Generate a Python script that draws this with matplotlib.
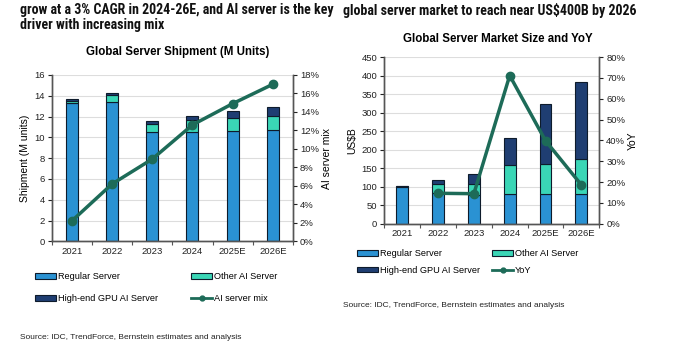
import matplotlib
matplotlib.use("Agg")
import matplotlib.pyplot as plt
import numpy as np
from matplotlib.patches import Patch
from matplotlib.lines import Line2D

years = ["2021", "2022", "2023", "2024", "2025E", "2026E"]

# Left chart: Global server shipment (M units)
ship_regular = [13.3, 13.4, 10.5, 10.5, 10.6, 10.7]
ship_other_ai = [0.2, 0.7, 0.75, 1.15, 1.25, 1.4]
ship_highend = [0.15, 0.2, 0.3, 0.4, 0.65, 0.8]
ai_mix = [2.2, 6.2, 8.9, 12.6, 14.9, 17.0]

# Right chart: Global server market size (US$B) and YoY
mkt_regular = [98, 82, 77, 80, 81, 80]
mkt_other_ai = [4, 25, 31, 78, 81, 94]
mkt_highend = [1, 11, 27, 73, 161, 209]
mkt_yoy = [np.nan, 14.6, 14.4, 71.1, 39.8, 18.6]

C_REG = "#2A92D3"
C_OTH = "#3AD6B6"
C_HI = "#1F3E72"
C_LINE = "#1D6B58"
EDGE = "#0E1B2B"
SPINE = "#555555"

plt.rcParams['font.family'] = ['Liberation Sans', 'DejaVu Sans']

fig = plt.figure(figsize=(6.79, 3.51), dpi=100)
W, H = 679, 351

def fx(px):
    return px / W

def fy(py):
    return 1 - py / H

def style(ax, ax2):
    for a in (ax, ax2):
        a.spines['top'].set_visible(False)
        for s in ('left', 'right', 'bottom'):
            a.spines[s].set_color(SPINE)
            a.spines[s].set_linewidth(1.0)
        a.tick_params(axis='both', labelsize=6.8, colors='#222222', length=3, width=0.8, pad=2)
    ax.set_xlim(-0.5, 5.5)
    ax.set_xticks(range(6))
    ax.set_xticklabels(years)
    ax.tick_params(axis='x', which='major', length=0, pad=4)
    ax.set_xticks(np.arange(-0.5, 6, 1), minor=True)
    ax.tick_params(axis='x', which='minor', length=3, width=0.8, color=SPINE)
    ax.yaxis.grid(True, color='#DDDDDD', linewidth=0.8)
    ax.set_axisbelow(True)

def stacked(ax, reg, oth, hi, width):
    x = np.arange(len(years))
    reg = np.array(reg); oth = np.array(oth); hi = np.array(hi)
    ax.bar(x, reg, width, color=C_REG, edgecolor=EDGE, linewidth=0.8)
    ax.bar(x, oth, width, bottom=reg, color=C_OTH, edgecolor=EDGE, linewidth=0.8)
    ax.bar(x, hi, width, bottom=reg + oth, color=C_HI, edgecolor=EDGE, linewidth=0.8)

# ---------- Left chart ----------
axL = fig.add_axes([fx(51.7), fy(241.3), fx(293 - 51.7), (241.3 - 75) / H])
axL2 = axL.twinx()
stacked(axL, ship_regular, ship_other_ai, ship_highend, 0.3)
axL2.plot(range(6), ai_mix, color=C_LINE, lw=2.5, marker='o', ms=6)
style(axL, axL2)
axL.set_ylim(0, 16)
axL.set_yticks(range(0, 17, 2))
axL2.set_ylim(0, 18)
axL2.set_yticks(range(0, 19, 2))
axL2.set_yticklabels([f"{v}%" for v in range(0, 19, 2)])
axL.set_ylabel("Shipment (M units)", fontsize=7.5, labelpad=3)
axL2.set_ylabel("AI server mix", fontsize=7.5, labelpad=2)
fig.text(fx(178), fy(52), "Global Server Shipment (M Units)", fontsize=8.3,
         fontweight='bold', ha='center', va='center')

# ---------- Right chart ----------
axR = fig.add_axes([fx(384.3), fy(223.7), fx(599.3 - 384.3), (223.7 - 57) / H])
axR2 = axR.twinx()
stacked(axR, mkt_regular, mkt_other_ai, mkt_highend, 0.33)
axR2.plot(range(6), mkt_yoy, color=C_LINE, lw=2.5, marker='o', ms=6)
style(axR, axR2)
axR.set_ylim(0, 450)
axR.set_yticks(range(0, 451, 50))
axR2.set_ylim(0, 80)
axR2.set_yticks(range(0, 81, 10))
axR2.set_yticklabels([f"{v}%" for v in range(0, 81, 10)])
axR.set_ylabel("US$B", fontsize=7.5, labelpad=3)
axR2.set_ylabel("YoY", fontsize=7.5, labelpad=2)
fig.text(fx(498), fy(39), "Global Server Market Size and YoY", fontsize=8.3,
         fontweight='bold', ha='center', va='center')

# ---------- Legends ----------
def patch(c):
    return Patch(facecolor=c, edgecolor=EDGE, linewidth=0.8)

def linehandle():
    return Line2D([], [], color=C_LINE, lw=2.0, marker='o', ms=3.5)

def add_legend(handles, labels, x, y, spacing):
    leg = fig.legend(handles, labels, loc='upper left', bbox_to_anchor=(fx(x), fy(y)),
                     frameon=False, fontsize=6.6, handlelength=2.3, handleheight=0.6,
                     handletextpad=0.2, labelspacing=spacing, borderpad=0, borderaxespad=0)
    return leg

add_legend([patch(C_REG), patch(C_HI)], ["Regular Server", "High-end GPU AI Server"], 35, 272, 1.45)
add_legend([patch(C_OTH), linehandle()], ["Other AI Server", "AI server mix"], 191, 272, 1.45)
add_legend([patch(C_REG), patch(C_HI)], ["Regular Server", "High-end GPU AI Server"], 357, 249, 0.85)
add_legend([patch(C_OTH), linehandle()], ["Other AI Server", "YoY"], 492, 249, 0.85)

# ---------- Header & source ----------
hdr = ['Roboto Condensed', 'Roboto', 'DejaVu Sans']
hkw = dict(fontsize=10.0, fontweight='bold', family=hdr, fontstretch='condensed',
           va='center', ha='left', color='#111111')
fig.text(fx(20), fy(10), "grow at a 3% CAGR in 2024-26E, and AI server is the key", **hkw)
fig.text(fx(20), fy(25), "driver with increasing mix", **hkw)
fig.text(fx(343), fy(10), "global server market to reach near US$400B by 2026", **hkw)

src = "Source: IDC, TrendForce, Bernstein estimates and analysis"
fig.text(fx(20), fy(337.5), src, fontsize=6.0, va='center', ha='left', color='#222222')
fig.text(fx(343), fy(305.5), src, fontsize=6.0, va='center', ha='left', color='#222222')

fig.savefig("out.png", dpi=100)
